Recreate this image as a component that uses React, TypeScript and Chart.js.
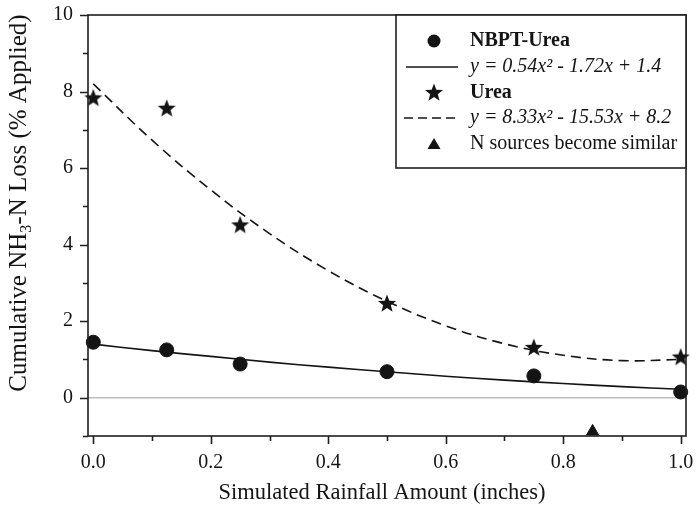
import React, { useEffect, useRef } from "react";
import { Chart, registerables } from "chart.js";

Chart.register(...registerables);

// ---- data ----
const RAINFALL = [0, 0.125, 0.25, 0.5, 0.75, 1.0];
const NBPT_UREA = [1.45, 1.25, 0.88, 0.68, 0.57, 0.15];
const UREA = [7.82, 7.55, 4.5, 2.45, 1.3, 1.05];
const FIT_X = [0, 0.1, 0.2, 0.3, 0.4, 0.5, 0.6, 0.7, 0.8, 0.9, 1.0];
const NBPT_FIT = [1.4, 1.23, 1.08, 0.93, 0.8, 0.68, 0.56, 0.46, 0.37, 0.29, 0.22];
const UREA_FIT = [8.2, 6.73, 5.43, 4.29, 3.32, 2.52, 1.88, 1.41, 1.11, 0.97, 1.0];
const SIMILAR_X = [0.85];
const SIMILAR_Y = [-0.88];
const X_TICKS = [0, 0.2, 0.4, 0.6, 0.8, 1.0];
const X_MINOR = [0.1, 0.3, 0.5, 0.7, 0.9];
const Y_TICKS = [0, 2, 4, 6, 8, 10];
const Y_MINOR = [-1, 1, 3, 5, 7, 9];
const LEGEND_LABELS = [
  "NBPT-Urea",
  "y = 0.54x² - 1.72x + 1.4",
  "Urea",
  "y = 8.33x² - 15.53x + 8.2",
  "N sources become similar",
];
const X_TITLE = "Simulated Rainfall Amount (inches)";
const Y_TITLE_PARTS = ["Cumulative NH", "3", "-N Loss (% Applied)"];

const FONT = '"Liberation Serif", "Times New Roman", serif';
const INK = "#141414";

function makeStar(size: number, outer: number, inner: number) {
  const c = document.createElement("canvas");
  c.width = size;
  c.height = size;
  const g = c.getContext("2d")!;
  g.fillStyle = INK;
  g.beginPath();
  for (let i = 0; i < 10; i++) {
    const r = i % 2 === 0 ? outer : inner;
    const ang = -Math.PI / 2 + (i * Math.PI) / 5;
    const px = size / 2 + r * Math.cos(ang);
    const py = size / 2 + r * Math.sin(ang);
    if (i === 0) g.moveTo(px, py);
    else g.lineTo(px, py);
  }
  g.closePath();
  g.fill();
  return c;
}

const decor = {
  id: "decor",
  afterDraw(chart: any) {
    const { ctx, chartArea: a, scales } = chart;
    const xs = scales.x;
    const ys = scales.y;
    ctx.save();
    ctx.strokeStyle = "#1e1e1e";
    ctx.lineWidth = 1.6;
    ctx.strokeRect(a.left, a.top, a.right - a.left, a.bottom - a.top);
    ctx.beginPath();
    Y_TICKS.forEach((v) => {
      const y = Math.round(ys.getPixelForValue(v)) + 0.5;
      ctx.moveTo(a.left, y);
      ctx.lineTo(a.left - 8, y);
    });
    Y_MINOR.forEach((v) => {
      const y = Math.round(ys.getPixelForValue(v)) + 0.5;
      ctx.moveTo(a.left, y);
      ctx.lineTo(a.left - 5, y);
    });
    X_TICKS.forEach((v) => {
      const x = Math.round(xs.getPixelForValue(v)) + 0.5;
      ctx.moveTo(x, a.bottom);
      ctx.lineTo(x, a.bottom + 8);
    });
    X_MINOR.forEach((v) => {
      const x = Math.round(xs.getPixelForValue(v)) + 0.5;
      ctx.moveTo(x, a.bottom);
      ctx.lineTo(x, a.bottom + 5);
    });
    ctx.stroke();

    // x title
    ctx.fillStyle = INK;
    ctx.font = `22.5px ${FONT}`;
    ctx.textAlign = "center";
    ctx.textBaseline = "middle";
    ctx.fillText(X_TITLE, (a.left + a.right) / 2 - 5, 493);

    // y title with subscript
    ctx.save();
    ctx.translate(18, 203);
    ctx.rotate(-Math.PI / 2);
    const big = `25px ${FONT}`;
    const small = `16px ${FONT}`;
    ctx.font = big;
    const w0 = ctx.measureText(Y_TITLE_PARTS[0]).width;
    const w2 = ctx.measureText(Y_TITLE_PARTS[2]).width;
    ctx.font = small;
    const w1 = ctx.measureText(Y_TITLE_PARTS[1]).width;
    let x0 = -(w0 + w1 + w2) / 2;
    ctx.textAlign = "left";
    ctx.textBaseline = "alphabetic";
    ctx.font = big;
    ctx.fillText(Y_TITLE_PARTS[0], x0, 8);
    ctx.font = small;
    ctx.fillText(Y_TITLE_PARTS[1], x0 + w0, 13);
    ctx.font = big;
    ctx.fillText(Y_TITLE_PARTS[2], x0 + w0 + w1, 8);
    ctx.restore();

    // legend
    const bw = 290;
    const bh = 153;
    const bl = a.right - bw;
    const bt = a.top;
    ctx.fillStyle = "#ffffff";
    ctx.fillRect(bl, bt, bw, bh);
    ctx.strokeStyle = "#1e1e1e";
    ctx.lineWidth = 1.6;
    ctx.strokeRect(bl, bt, bw, bh);
    const rowY = [26, 52, 78, 103, 129].map((d) => bt + d);
    const symX = bl + 38;
    const textX = bl + 74;
    const styles = ["bold", "italic", "bold", "italic", "normal"];
    ctx.fillStyle = INK;
    ctx.strokeStyle = INK;
    // circle
    ctx.beginPath();
    ctx.arc(symX, rowY[0], 6.5, 0, Math.PI * 2);
    ctx.fill();
    // solid
    ctx.lineWidth = 1.5;
    ctx.setLineDash([]);
    ctx.beginPath();
    ctx.moveTo(bl + 10, rowY[1]);
    ctx.lineTo(bl + 62, rowY[1]);
    ctx.stroke();
    // star
    const st = chart.data.datasets[2].pointStyle;
    ctx.drawImage(st, symX - st.width / 2, rowY[2] - st.height / 2);
    // dashed
    ctx.setLineDash([9, 5]);
    ctx.beginPath();
    ctx.moveTo(bl + 8, rowY[3]);
    ctx.lineTo(bl + 62, rowY[3]);
    ctx.stroke();
    ctx.setLineDash([]);
    // triangle
    ctx.beginPath();
    ctx.moveTo(symX, rowY[4] - 6);
    ctx.lineTo(symX + 6.5, rowY[4] + 5);
    ctx.lineTo(symX - 6.5, rowY[4] + 5);
    ctx.closePath();
    ctx.fill();
    ctx.textAlign = "left";
    ctx.textBaseline = "middle";
    LEGEND_LABELS.forEach((t, i) => {
      ctx.font = `${styles[i]} 20px ${FONT}`;
      ctx.fillText(t, textX, rowY[i]);
    });
    ctx.restore();
  },
};

export default function App() {
  const ref = useRef<HTMLCanvasElement | null>(null);
  useEffect(() => {
    const star = makeStar(22, 9.5, 4);
    const chart = new Chart(ref.current!, {
      type: "scatter",
      data: {
        datasets: [
          {
            label: LEGEND_LABELS[0],
            data: RAINFALL.map((x, i) => ({ x, y: NBPT_UREA[i] })),
            pointStyle: "circle",
            pointRadius: 7,
            backgroundColor: INK,
            borderColor: INK,
            clip: false,
            order: 1,
          },
          {
            label: LEGEND_LABELS[1],
            data: FIT_X.map((x, i) => ({ x, y: NBPT_FIT[i] })),
            showLine: true,
            pointRadius: 0,
            borderColor: INK,
            borderWidth: 1.6,
            tension: 0.4,
            clip: false,
            order: 2,
          },
          {
            label: LEGEND_LABELS[2],
            data: RAINFALL.map((x, i) => ({ x, y: UREA[i] })),
            pointStyle: star as any,
            pointRadius: 10,
            backgroundColor: INK,
            borderColor: INK,
            clip: false,
            order: 1,
          },
          {
            label: LEGEND_LABELS[3],
            data: FIT_X.map((x, i) => ({ x, y: UREA_FIT[i] })),
            showLine: true,
            pointRadius: 0,
            borderColor: INK,
            borderWidth: 1.6,
            borderDash: [10, 6],
            tension: 0.4,
            clip: false,
            order: 2,
          },
          {
            label: LEGEND_LABELS[4],
            data: SIMILAR_X.map((x, i) => ({ x, y: SIMILAR_Y[i] })),
            pointStyle: "triangle",
            pointRadius: 7,
            backgroundColor: INK,
            borderColor: INK,
            clip: false,
            order: 1,
          },
        ],
      },
      options: {
        responsive: false,
        animation: false,
        layout: { padding: { left: 0, top: 15, right: 9, bottom: 0 } },
        plugins: { legend: { display: false }, tooltip: { enabled: false } },
        scales: {
          x: {
            type: "linear",
            min: -0.009,
            max: 1.009,
            afterBuildTicks: (s: any) => {
              s.ticks = X_TICKS.map((v) => ({ value: v }));
            },
            afterFit: (s: any) => {
              s.height = 85;
              s.paddingLeft = 0;
              s.paddingRight = 0;
            },
            grid: { display: false, drawTicks: false },
            border: { display: false },
            ticks: {
              padding: 15,
              color: INK,
              font: { family: FONT, size: 20 },
              maxRotation: 0,
              autoSkip: false,
              callback: (v: any) => Number(v).toFixed(1),
            },
          },
          y: {
            type: "linear",
            min: -1,
            max: 10,
            afterBuildTicks: (s: any) => {
              s.ticks = Y_TICKS.map((v) => ({ value: v }));
            },
            afterFit: (s: any) => {
              s.width = 88;
              s.paddingTop = 0;
              s.paddingBottom = 0;
            },
            grid: {
              display: true,
              drawTicks: false,
              lineWidth: 1.6,
              color: (c: any) => (c.tick && c.tick.value === 0 ? "#bdbdbd" : "rgba(0,0,0,0)"),
            },
            border: { display: false },
            ticks: {
              padding: 15,
              color: INK,
              font: { family: FONT, size: 20 },
              autoSkip: false,
              callback: (v: any) => String(v),
            },
          },
        },
      },
      plugins: [decor],
    });
    return () => chart.destroy();
  }, []);
  return (
    <div style={{ position: "fixed", left: 0, top: 0, width: 697, height: 521, background: "#fff" }}>
      <canvas ref={ref} width={697} height={521} style={{ display: "block" }} />
    </div>
  );
}
